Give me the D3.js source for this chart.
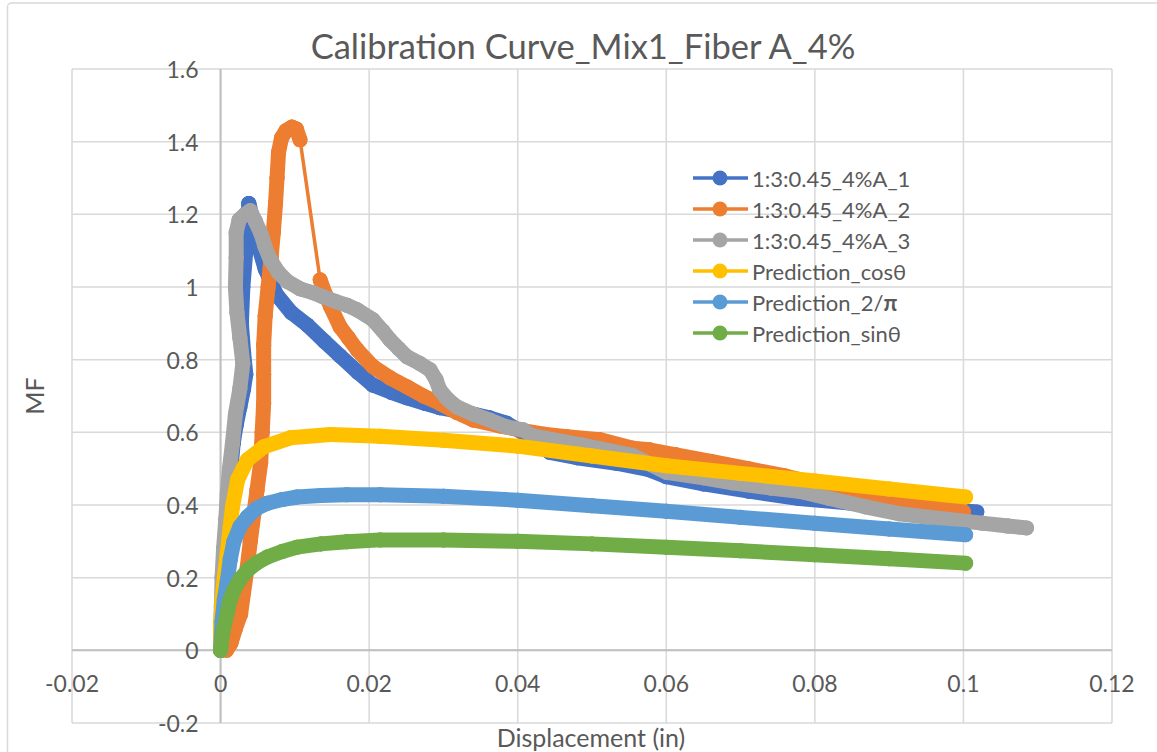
<!DOCTYPE html>
<html>
<head>
<meta charset="utf-8">
<script src="https://cdn.jsdelivr.net/npm/d3@7"></script>
<style>
  html, body { margin: 0; padding: 0; background: #fff; }
  svg { display: block; }
  text { font-family: Lato, "Open Sans", sans-serif; fill: #595959; }
</style>
</head>
<body>
<svg id="chart" width="1157" height="752"></svg>
<script>
// ---------------- DATA ----------------
const chartTitle = "Calibration Curve_Mix1_Fiber A_4%";
const xAxisTitle = "Displacement (in)";
const yAxisTitle = "MF";
const xTicks = [-0.02, 0, 0.02, 0.04, 0.06, 0.08, 0.1, 0.12];
const yTicks = [-0.2, 0, 0.2, 0.4, 0.6, 0.8, 1, 1.2, 1.4, 1.6];
const seriesNames = ["1:3:0.45_4%A_1", "1:3:0.45_4%A_2", "1:3:0.45_4%A_3",
  "Prediction_cosθ", "Prediction_2/π", "Prediction_sinθ"];

const s1x = [0, 0.0002, 0.0004, 0.0006, 0.0009, 0.0012, 0.0014, 0.0017, 0.0021, 0.0026, 0.0031, 0.0034,
  0.0031, 0.0028, 0.0030, 0.0034, 0.0038, 0.0043, 0.0050, 0.0060, 0.0075, 0.0095, 0.0117, 0.0140,
  0.0161, 0.0185, 0.0205, 0.0230, 0.0251, 0.0275, 0.0295, 0.0320, 0.0340, 0.0362, 0.0385, 0.0410,
  0.0443, 0.0480, 0.0533, 0.0577, 0.0600, 0.0650, 0.0711, 0.0779, 0.0850, 0.0920, 0.0980, 0.1018];
const s1y = [0, 0.06, 0.15, 0.25, 0.33, 0.42, 0.50, 0.57, 0.62, 0.67, 0.72, 0.76,
  0.82, 0.90, 1.00, 1.10, 1.23, 1.19, 1.12, 1.05, 0.98, 0.93, 0.895, 0.85,
  0.81, 0.765, 0.73, 0.71, 0.695, 0.68, 0.668, 0.658, 0.65, 0.64, 0.625, 0.595,
  0.545, 0.53, 0.515, 0.497, 0.478, 0.458, 0.438, 0.418, 0.405, 0.395, 0.388, 0.381];

const s2x = [0.0008, 0.0014, 0.0020, 0.0027, 0.0031, 0.0036, 0.0040, 0.0045, 0.0049, 0.0054, 0.0056,
  0.0058, 0.0058, 0.0058, 0.0060, 0.0064, 0.0068, 0.0071, 0.0074, 0.0076, 0.0078, 0.0082, 0.0088,
  0.0096, 0.0102, 0.0107, 0.0134, 0.0141, 0.0148, 0.0161, 0.0172, 0.0184, 0.0205, 0.0228, 0.0251,
  0.0273, 0.0295, 0.0318, 0.0340, 0.0375, 0.0407, 0.0435, 0.0466, 0.0510, 0.0555, 0.0577, 0.0613,
  0.0660, 0.0710, 0.0760, 0.0810, 0.0860, 0.0910, 0.0960, 0.1000];
const s2y = [0, 0.02, 0.06, 0.10, 0.16, 0.23, 0.30, 0.378, 0.44, 0.516, 0.60,
  0.68, 0.76, 0.84, 0.92, 1.00, 1.08, 1.15, 1.23, 1.30, 1.37, 1.41, 1.43,
  1.44, 1.435, 1.405, 1.02, 0.98, 0.946, 0.89, 0.86, 0.827, 0.781, 0.75, 0.725,
  0.70, 0.68, 0.655, 0.634, 0.618, 0.605, 0.595, 0.588, 0.58, 0.556, 0.552, 0.538,
  0.52, 0.50, 0.48, 0.455, 0.435, 0.415, 0.395, 0.381];

const s3x = [0, 0.0000, 0.0001, 0.0002, 0.0004, 0.0007, 0.0009, 0.0012, 0.0016, 0.0020, 0.0026, 0.0030,
  0.0026, 0.0022, 0.0020, 0.0021, 0.0021, 0.0025, 0.0033, 0.0040, 0.0047, 0.0054, 0.0060, 0.0067,
  0.0078, 0.0090, 0.0107, 0.0125, 0.0138, 0.0155, 0.0170, 0.0184, 0.0205, 0.0218, 0.0228, 0.0240,
  0.0251, 0.0268, 0.0282, 0.0290, 0.0295, 0.0306, 0.0318, 0.0340, 0.0362, 0.0385, 0.0407, 0.0420,
  0.0487, 0.0554, 0.0600, 0.0650, 0.0689, 0.0740, 0.0779, 0.0820, 0.0868, 0.0913, 0.0980, 0.1025,
  0.1060, 0.1085];
const s3y = [0, 0.05, 0.12, 0.20, 0.28, 0.36, 0.43, 0.50, 0.57, 0.65, 0.72, 0.79,
  0.86, 0.93, 1.00, 1.08, 1.15, 1.185, 1.20, 1.21, 1.18, 1.149, 1.11, 1.075,
  1.04, 1.015, 0.995, 0.984, 0.973, 0.96, 0.95, 0.937, 0.91, 0.88, 0.855, 0.83,
  0.808, 0.79, 0.772, 0.745, 0.717, 0.69, 0.67, 0.65, 0.634, 0.615, 0.607, 0.59,
  0.565, 0.537, 0.49, 0.475, 0.461, 0.447, 0.438, 0.418, 0.395, 0.376, 0.36, 0.35,
  0.342, 0.337];

const s4x = [0, 0.0000, 0.0002, 0.0005, 0.0009, 0.0013, 0.0016, 0.0023, 0.0036, 0.0058, 0.0094,
  0.0148, 0.0215, 0.0300, 0.0400, 0.0500, 0.0600, 0.0700, 0.0800, 0.0900, 0.1003];
const s4y = [0, 0.07, 0.14, 0.20, 0.268, 0.34, 0.395, 0.47, 0.524, 0.56, 0.585,
  0.594, 0.589, 0.578, 0.562, 0.535, 0.508, 0.487, 0.466, 0.444, 0.422];

const s5x = [0, 0.0002, 0.0005, 0.0009, 0.0013, 0.0018, 0.0026, 0.0036, 0.0048, 0.0063, 0.0083,
  0.0103, 0.0135, 0.0170, 0.0215, 0.0300, 0.0400, 0.0500, 0.0600, 0.0700, 0.0800, 0.0900, 0.1003];
const s5y = [0, 0.08, 0.14, 0.19, 0.25, 0.30, 0.34, 0.367, 0.39, 0.405, 0.415,
  0.422, 0.426, 0.428, 0.428, 0.424, 0.413, 0.398, 0.383, 0.366, 0.35, 0.334, 0.318];

const s6x = [0, 0.0003, 0.0009, 0.0013, 0.0018, 0.0026, 0.0036, 0.0048, 0.0063, 0.0083, 0.0103,
  0.0135, 0.0170, 0.0215, 0.0300, 0.0400, 0.0500, 0.0600, 0.0700, 0.0800, 0.0900, 0.1003];
const s6y = [0, 0.05, 0.103, 0.14, 0.166, 0.195, 0.22, 0.24, 0.257, 0.272, 0.284,
  0.293, 0.299, 0.304, 0.304, 0.30, 0.293, 0.284, 0.274, 0.263, 0.252, 0.24];

const seriesColors = ["#4472C4", "#ED7D31", "#A5A5A5", "#FFC000", "#5B9BD5", "#70AD47"];

// ---------------- RENDER ----------------
const allX = [s1x, s2x, s3x, s4x, s5x, s6x];
const allY = [s1y, s2y, s3y, s4y, s5y, s6y];
const series = seriesNames.map((name, i) => ({
  name, color: seriesColors[i],
  pts: allX[i].map((x, j) => ({x, y: allY[i][j]}))
}));

const svg = d3.select("#chart");
const W = 1157, H = 752;
const L = 72, R = 1112, T = 69, B = 723;
const x = d3.scaleLinear().domain([-0.02, 0.12]).range([L, R]);
const y = d3.scaleLinear().domain([-0.2, 1.6]).range([B, T]);

// chart border
svg.append("rect").attr("x", 7.5).attr("y", 3).attr("width", W + 20).attr("height", H + 20)
  .attr("rx", 4).attr("fill", "#fff").attr("stroke", "#D9D9D9").attr("stroke-width", 1.5);

// gridlines
const grid = svg.append("g");
grid.selectAll("line.v").data(xTicks).join("line")
  .attr("x1", d => x(d)).attr("x2", d => x(d)).attr("y1", T).attr("y2", B)
  .attr("stroke", "#D9D9D9").attr("stroke-width", 1.5);
grid.selectAll("line.h").data(yTicks).join("line")
  .attr("x1", L).attr("x2", R).attr("y1", d => y(d)).attr("y2", d => y(d))
  .attr("stroke", "#D9D9D9").attr("stroke-width", 1.5);

// axis lines crossing at zero
svg.append("line").attr("x1", L).attr("x2", R).attr("y1", y(0)).attr("y2", y(0))
  .attr("stroke", "#BFBFBF").attr("stroke-width", 2);
svg.append("line").attr("x1", x(0)).attr("x2", x(0)).attr("y1", T).attr("y2", B)
  .attr("stroke", "#BFBFBF").attr("stroke-width", 2);

const fmt = v => String(+v.toFixed(2));
// tick labels
svg.append("g").selectAll("text").data(xTicks).join("text")
  .attr("x", d => x(d)).attr("y", y(0) + 33).attr("text-anchor", "middle")
  .attr("dominant-baseline", "central").attr("font-size", 23).text(fmt);
svg.append("g").selectAll("text").data(yTicks).join("text")
  .attr("x", x(0) - 22).attr("y", d => y(d)).attr("text-anchor", "end")
  .attr("dominant-baseline", "central").attr("font-size", 23).text(fmt);

// series
const line = d3.line().x(d => x(d.x)).y(d => y(d.y));
const plot = svg.append("g");
series.forEach(s => {
  const g = plot.append("g");
  // dense marker runs: consecutive points close together render as a continuous band
  const segs = d3.pairs(s.pts).filter(([a, b]) => Math.abs(y(a.y) - y(b.y)) < 80);
  g.selectAll("line.band").data(segs).join("line")
    .attr("x1", d => x(d[0].x)).attr("y1", d => y(d[0].y))
    .attr("x2", d => x(d[1].x)).attr("y2", d => y(d[1].y))
    .attr("stroke", s.color).attr("stroke-width", 15).attr("stroke-linecap", "round");
  g.append("path").attr("d", line(s.pts)).attr("fill", "none")
    .attr("stroke", s.color).attr("stroke-width", 3.5).attr("stroke-linejoin", "round");
  g.selectAll("circle").data(s.pts).join("circle")
    .attr("cx", d => x(d.x)).attr("cy", d => y(d.y)).attr("r", 7.5)
    .attr("fill", s.color);
});

// title
svg.append("text").attr("x", 583).attr("y", 59).attr("text-anchor", "middle")
  .attr("font-size", 34.5).text(chartTitle);
// axis titles
svg.append("text").attr("x", 591).attr("y", 747).attr("text-anchor", "middle")
  .attr("font-size", 25).text(xAxisTitle);
svg.append("text").attr("transform", `translate(44,396) rotate(-90)`).attr("text-anchor", "middle")
  .attr("font-size", 25).text(yAxisTitle);

// legend
const lg = svg.append("g");
series.forEach((s, i) => {
  const cy = 178 + 31 * i;
  lg.append("line").attr("x1", 693).attr("x2", 748).attr("y1", cy).attr("y2", cy)
    .attr("stroke", s.color).attr("stroke-width", 3.5);
  lg.append("circle").attr("cx", 720).attr("cy", cy).attr("r", 7.5).attr("fill", s.color);
  const t = lg.append("text").attr("x", 752).attr("y", cy).attr("dominant-baseline", "central")
    .attr("font-size", 22);
  if (s.name.endsWith("π")) {
    t.append("tspan").text(s.name.slice(0, -1));
    t.append("tspan").attr("font-weight", "bold").text("π");
  } else {
    t.text(s.name);
  }
});
</script>
</body>
</html>
